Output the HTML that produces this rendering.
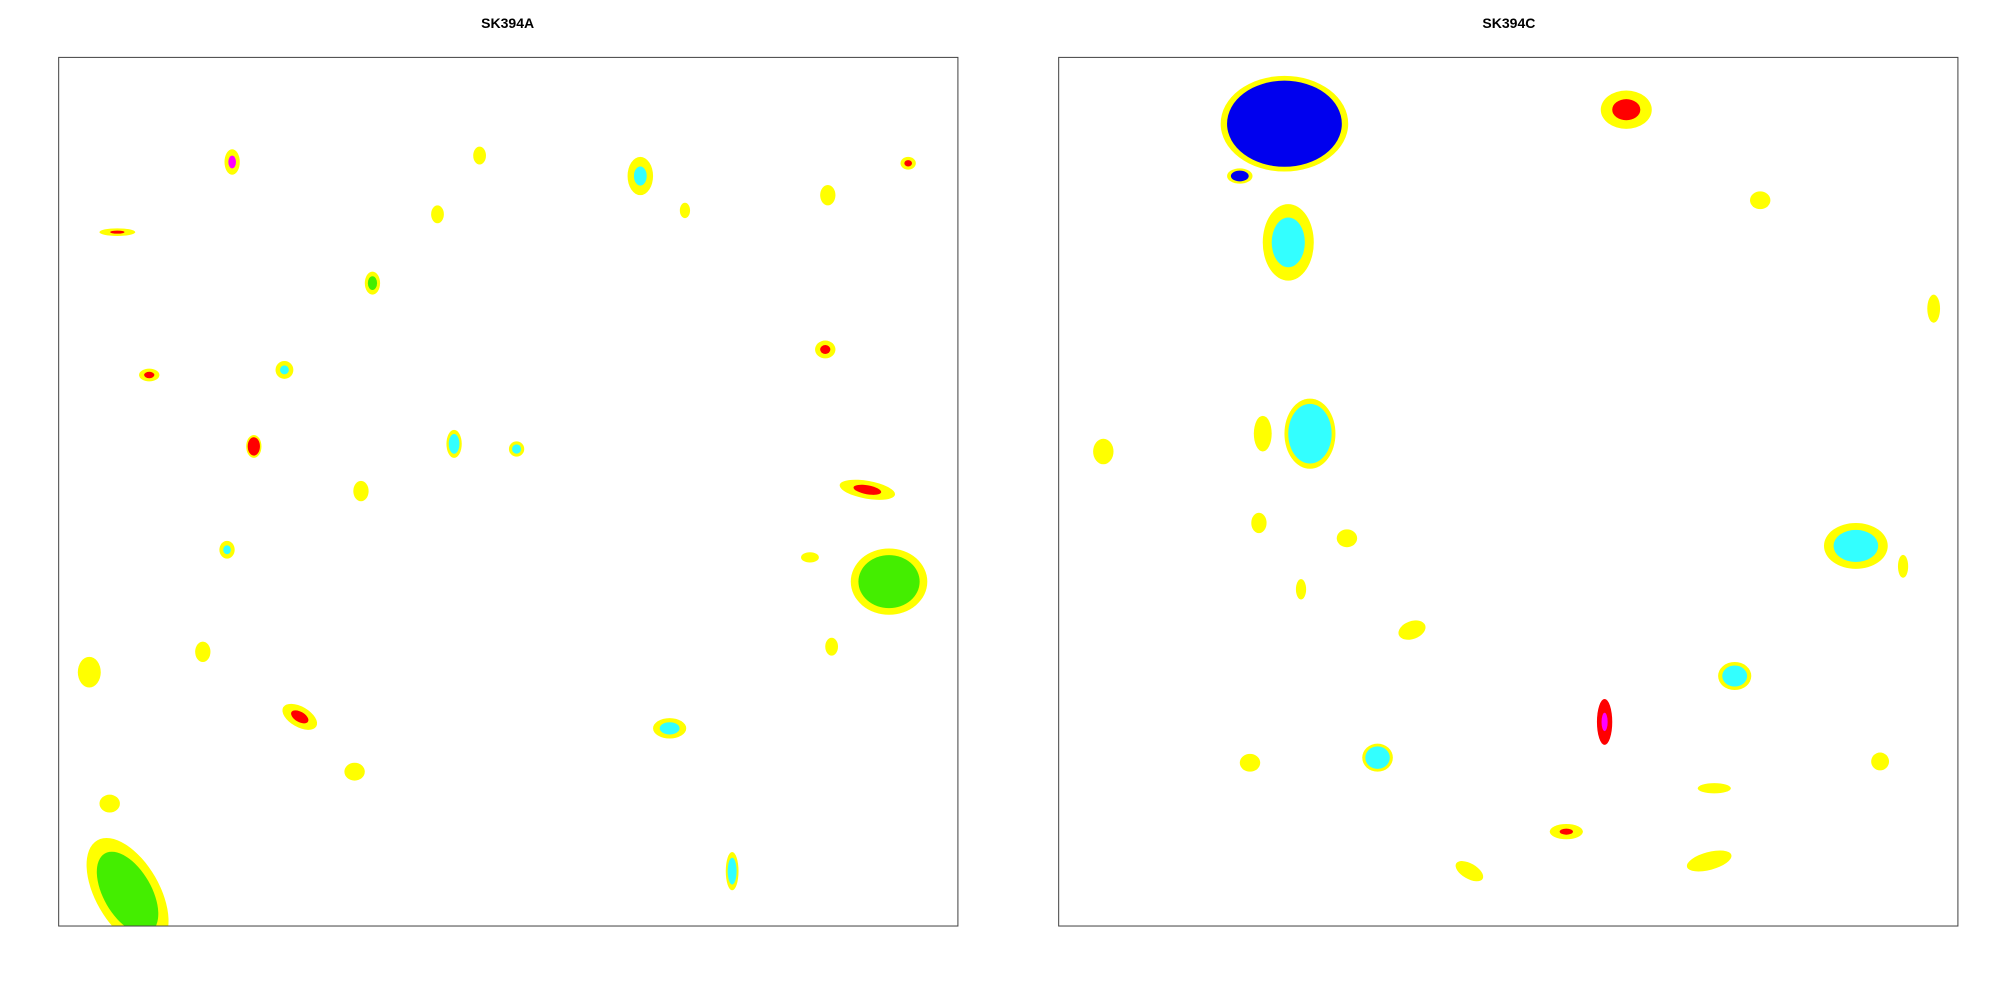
<!DOCTYPE html>
<html><head><meta charset="utf-8"><style>
html,body{margin:0;padding:0;background:#fff;width:2000px;height:1000px;overflow:hidden}
svg{display:block}
</style></head><body>
<svg id="chart" width="2000" height="1000" viewBox="0 0 1568 784" xmlns="http://www.w3.org/2000/svg">
<defs>
<clipPath id="clipA"><rect x="46" y="45" width="705" height="681"/></clipPath>
<clipPath id="clipC"><rect x="830" y="45" width="705" height="681"/></clipPath>
</defs>
<text x="398" y="22" text-anchor="middle" font-family="Liberation Sans, sans-serif" font-weight="bold" font-size="11">SK394A</text>
<text x="1183" y="22" text-anchor="middle" font-family="Liberation Sans, sans-serif" font-weight="bold" font-size="11">SK394C</text>
<g id="gA" clip-path="url(#clipA)"></g>
<g id="gC" clip-path="url(#clipC)"></g>
<rect x="46" y="45" width="705" height="681" fill="none" stroke="#444" stroke-width="0.8"/>
<rect x="830" y="45" width="705" height="681" fill="none" stroke="#444" stroke-width="0.8"/>
</svg>
<script>
// Panel SK394A blobs (data units: x 0..705, y 0..681 upward)
const aX = [136,330,456,491,666,603,46,297,246,71,177,601,153,310,359,237,634,132,589,651,606,113,24,189,479,232,40,528,54];
const aY = [599,604,588,561,598,573,544,558,504,432,436,452,376,378,374,341,342,295,289,270,219,215,199,164,155,121,96,43,26];
const aW = [12,10,20,8,12,12,28,10,12,16,14,16,12,12,12,12,44,12,14,60,10,12,18,30,26,16,16,10,50];
const aH = [20,14,30,12,10,16,6,14,18,10,14,14,18,22,12,16,14,14,8,52,14,16,24,16,16,14,14,30,95];
const aOuter = ['Y','Y','Y','Y','Y','Y','Y','Y','Y','Y','Y','Y','Y','Y','Y','Y','Y','Y','Y','Y','Y','Y','Y','Y','Y','Y','Y','Y','Y'];
const aInner = ['M','','C','','R','','R','','G','R','C','R','R','C','C','','R','C','','G','','','','R','C','','','C','G'];
const aInnerScale = [0.5,0,0.5,0,0.5,0,0.4,0,0.6,0.5,0.5,0.5,0.8,0.7,0.6,0,0.5,0.5,0,0.8,0,0,0,0.5,0.6,0,0,0.7,0.75];
const aAngle = [0,0,0,0,0,0,0,0,0,0,0,0,0,0,0,0,10,0,0,0,0,0,0,30,0,0,0,0,-30];

// Panel SK394C blobs
const cX = [177,142,180,445,550,686,197,160,35,157,226,625,662,190,277,530,428,250,150,644,514,398,322,510];
const cY = [629,588,536,640,569,484,386,386,372,316,304,298,282,264,232,196,160,132,128,129,108,74,43,51];
const cW = [100,20,40,40,16,10,40,14,16,12,16,50,8,8,22,26,12,24,16,14,26,26,24,36];
const cH = [75,12,60,30,14,22,55,28,20,16,14,36,18,16,14,22,36,22,14,14,8,12,12,14];
const cOuter = ['Y','Y','Y','Y','Y','Y','Y','Y','Y','Y','Y','Y','Y','Y','Y','Y','R','Y','Y','Y','Y','Y','Y','Y'];
const cInner = ['B','B','C','R','','','C','','','','','C','','','','C','M','C','','','','R','',''];
const cInnerScale = [0.9,0.7,0.65,0.55,0,0,0.85,0,0,0,0,0.7,0,0,0,0.75,0.4,0.8,0,0,0,0.4,0,0];
const cAngle = [0,0,0,0,0,0,0,0,0,0,0,0,0,0,-20,0,0,0,0,0,0,0,30,-15];

const COLORS = {Y:'#ffff00',C:'#33ffff',G:'#44ee00',B:'#0000ee',R:'#ff0000',M:'#ff00ff'};
const NS = 'http://www.w3.org/2000/svg';

function makeScale(left, top){
  return {
    x: v => left + v,
    y: v => top + 681 - v
  };
}

function drawPanel(gid, left, top, X, Y, W, H, O, I, S, A, prefix){
  const g = document.getElementById(gid);
  const sc = makeScale(left, top);
  for (let i = 0; i < X.length; i++){
    const cx = sc.x(X[i]), cy = sc.y(Y[i]);
    const grp = document.createElementNS(NS,'g');
    
    
    grp.setAttribute('transform', 'rotate(' + A[i] + ' ' + cx + ' ' + cy + ')');
    const e = document.createElementNS(NS,'ellipse');
    
    
    e.setAttribute('cx', cx); e.setAttribute('cy', cy);
    e.setAttribute('rx', W[i]/2); e.setAttribute('ry', H[i]/2);
    e.setAttribute('fill', COLORS[O[i]]);
    grp.appendChild(e);
    if (I[i]){
      const f = document.createElementNS(NS,'ellipse');
      
      
      f.setAttribute('cx', cx); f.setAttribute('cy', cy);
      f.setAttribute('rx', W[i]/2*S[i]); f.setAttribute('ry', H[i]/2*S[i]);
      f.setAttribute('fill', COLORS[I[i]]);
      grp.appendChild(f);
    }
    g.appendChild(grp);
  }
}
drawPanel('gA', 46, 45, aX, aY, aW, aH, aOuter, aInner, aInnerScale, aAngle, 'sk394a');
drawPanel('gC', 830, 45, cX, cY, cW, cH, cOuter, cInner, cInnerScale, cAngle, 'sk394c');
</script>
</body></html>
